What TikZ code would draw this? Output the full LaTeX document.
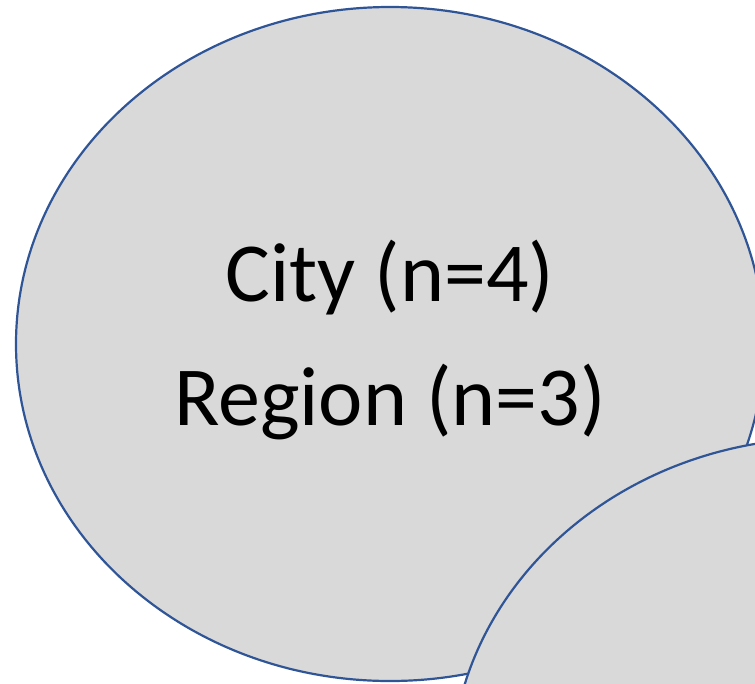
\documentclass[tikz,border=0pt]{standalone}
\usepackage{fontspec}
\setmainfont{Carlito}
\usetikzlibrary{shapes.geometric}

\definecolor{setfill}{HTML}{D9D9D9}
\definecolor{setline}{HTML}{2F5597}

\begin{document}
\begin{tikzpicture}[x=1pt, y=1pt,
		setshape/.style={ellipse, fill=setfill, draw=setline, line width=2.2pt,
			minimum width=748pt, minimum height=674pt, inner sep=0pt},
		setlabel/.style={align=center, font=\fontsize{84}{124}\selectfont}]
			\useasboundingbox (0, 0) rectangle (755, -683);
			\clip (0, 0) rectangle (755, -683);

			\node[setshape] (city) at (390, -344) {};
			\node[setshape] (other) at (825, -775) {};

			\node[setlabel, anchor=base] (lbl) at (390, -425) {City (n=4)\\Region (n=3)};

		\end{tikzpicture}
\end{document}
